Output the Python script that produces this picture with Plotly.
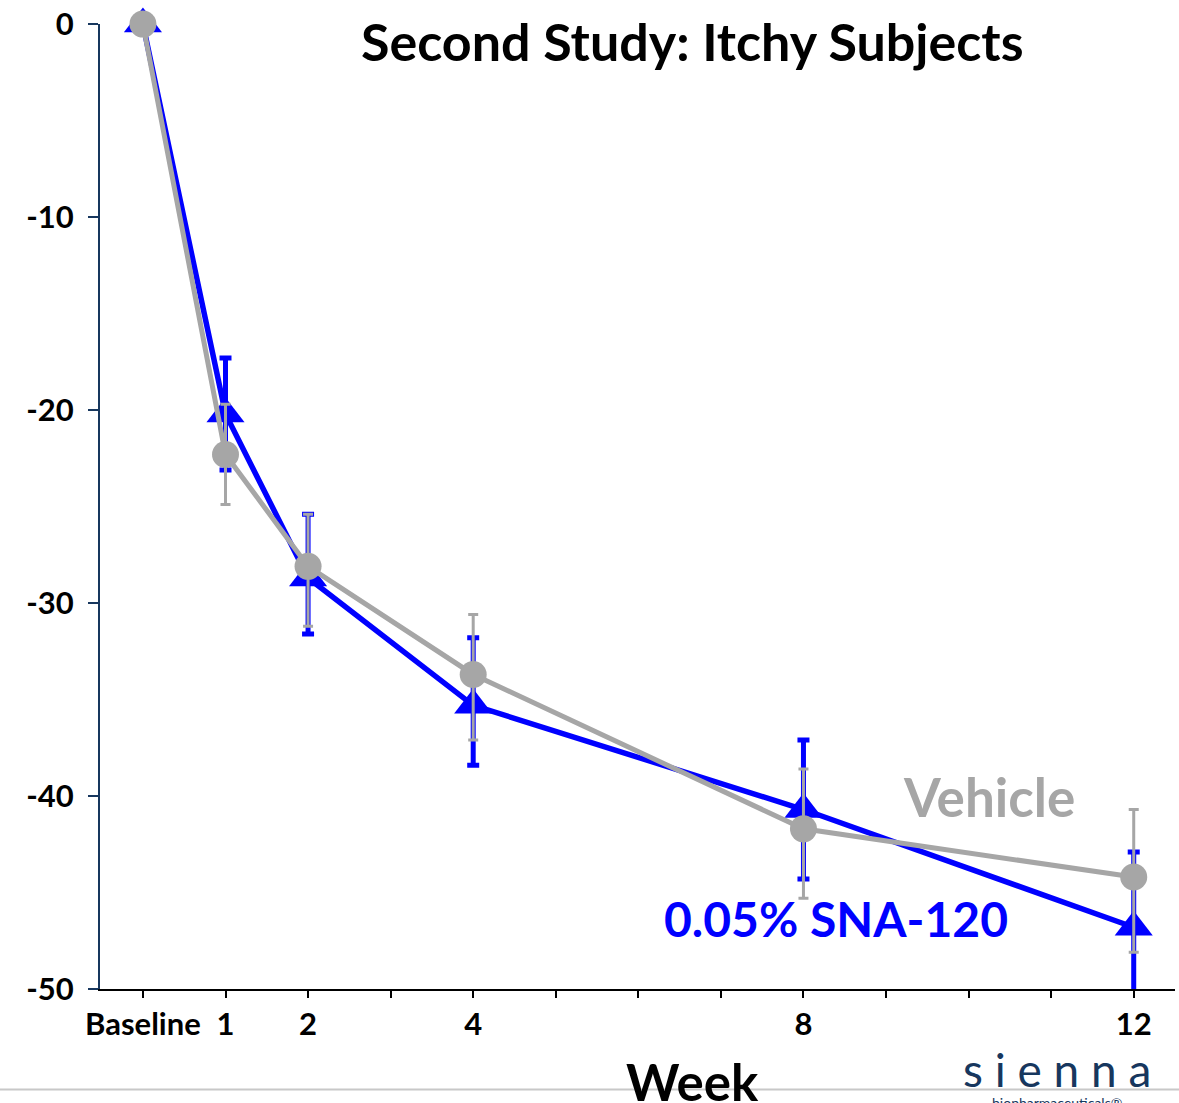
import plotly.graph_objects as go

weeks = [0, 1, 2, 4, 8, 12]
tick_weeks = list(range(0, 13))
tick_labels = {0: "Baseline", 1: "1", 2: "2", 4: "4", 8: "8", 12: "12"}
y_ticks = [0, -10, -20, -30, -40, -50]
y_labels = ["0", "-10", "-20", "-30", "-40", "-50"]

sna_mean = [0, -20.2, -28.7, -35.3, -40.7, -46.8]
sna_upper = [0, -17.3, -25.4, -31.8, -37.1, -42.9]
sna_lower = [0, -23.1, -31.6, -38.4, -44.3, -50.7]

veh_mean = [0, -22.3, -28.1, -33.7, -41.7, -44.2]
veh_upper = [0, -19.7, -25.4, -30.6, -38.6, -40.7]
veh_lower = [0, -24.9, -31.2, -37.1, -45.3, -48.1]

BLUE = "#0000FF"
GRAY = "#A6A6A6"
NAVY = "#17375E"
FONT = "Lato"

W, H = 1179, 1103
L, R, T, B = 100, 4, 19, 114
PW, PH = W - L - R, H - T - B


def px(x):
    return (x - L) / PW


def py(y):
    return (H - B - y) / PH


def errs(mean, up, lo):
    plus = [u - m for u, m in zip(up, mean)]
    minus = [m - l for m, l in zip(mean, lo)]
    return plus, minus


fig = go.Figure()

for mean, up, lo, color, lw, ethick, ewidth, sym, msize in [
    (sna_mean, sna_upper, sna_lower, BLUE, 5.5, 5, 6, "triangle-up", 33),
    (veh_mean, veh_upper, veh_lower, GRAY, 5, 3, 5, "circle", 27),
]:
    plus, minus = errs(mean, up, lo)
    fig.add_trace(go.Scatter(
        x=weeks, y=mean, mode="lines",
        line=dict(color=color, width=lw),
        error_y=dict(type="data", symmetric=False, array=plus, arrayminus=minus,
                     color=color, thickness=ethick, width=ewidth),
        cliponaxis=True, showlegend=False, hoverinfo="skip",
    ))
    fig.add_trace(go.Scatter(
        x=weeks, y=mean, mode="markers",
        marker=dict(symbol=sym, size=msize, color=color),
        cliponaxis=False, showlegend=False,
    ))

fig.update_layout(
    width=W, height=H,
    margin=dict(l=L, r=R, t=T, b=B),
    plot_bgcolor="white", paper_bgcolor="white",
    font=dict(family=FONT, color="black"),
    xaxis=dict(
        range=[-0.52, 12.5],
        tickmode="array",
        tickvals=tick_weeks,
        ticktext=[tick_labels.get(w, "") for w in tick_weeks],
        ticks="outside", ticklen=7, tickwidth=2, tickcolor="black",
        showline=True, linecolor="black", linewidth=2,
        showgrid=False, zeroline=False,
        tickfont=dict(size=31, family=FONT, weight="bold"),
    ),
    yaxis=dict(
        range=[-50, 0.005],
        tickmode="array",
        tickvals=y_ticks, ticktext=y_labels,
        ticks="outside", ticklen=10, tickwidth=2, tickcolor=NAVY,
        showline=True, linecolor=NAVY, linewidth=2,
        showgrid=False, zeroline=False,
        ticklabelstandoff=8,
        ticklabeloverflow="allow",
        tickfont=dict(size=31, family=FONT, weight="bold"),
    ),
)

anns = [
    ("Second Study: Itchy Subjects", 692, 36, dict(size=52, color="black", weight="bold")),
    ("Vehicle", 989, 795, dict(size=53, color=GRAY, weight="bold")),
    ("0.05% SNA-120", 836, 918, dict(size=48, color=BLUE, weight="bold")),
    ("Week", 692, 1082, dict(size=51, color="black", weight="bold")),
    ("s i e n n a", 1057, 1070, dict(size=46, color=NAVY, weight="normal")),
    ("biopharmaceuticals®", 1057, 1103, dict(size=14, color=NAVY, weight="normal")),
]
for text, x, y, f in anns:
    f["family"] = FONT
    fig.add_annotation(text=text, x=px(x), y=py(y), xref="paper", yref="paper",
                       xanchor="center", yanchor="middle", showarrow=False, font=f)

fig.add_shape(type="line", xref="paper", yref="paper",
              x0=px(0), x1=px(W), y0=py(1090), y1=py(1090),
              line=dict(color="#C8C8C8", width=2), layer="below")

fig.write_html("out.html")
